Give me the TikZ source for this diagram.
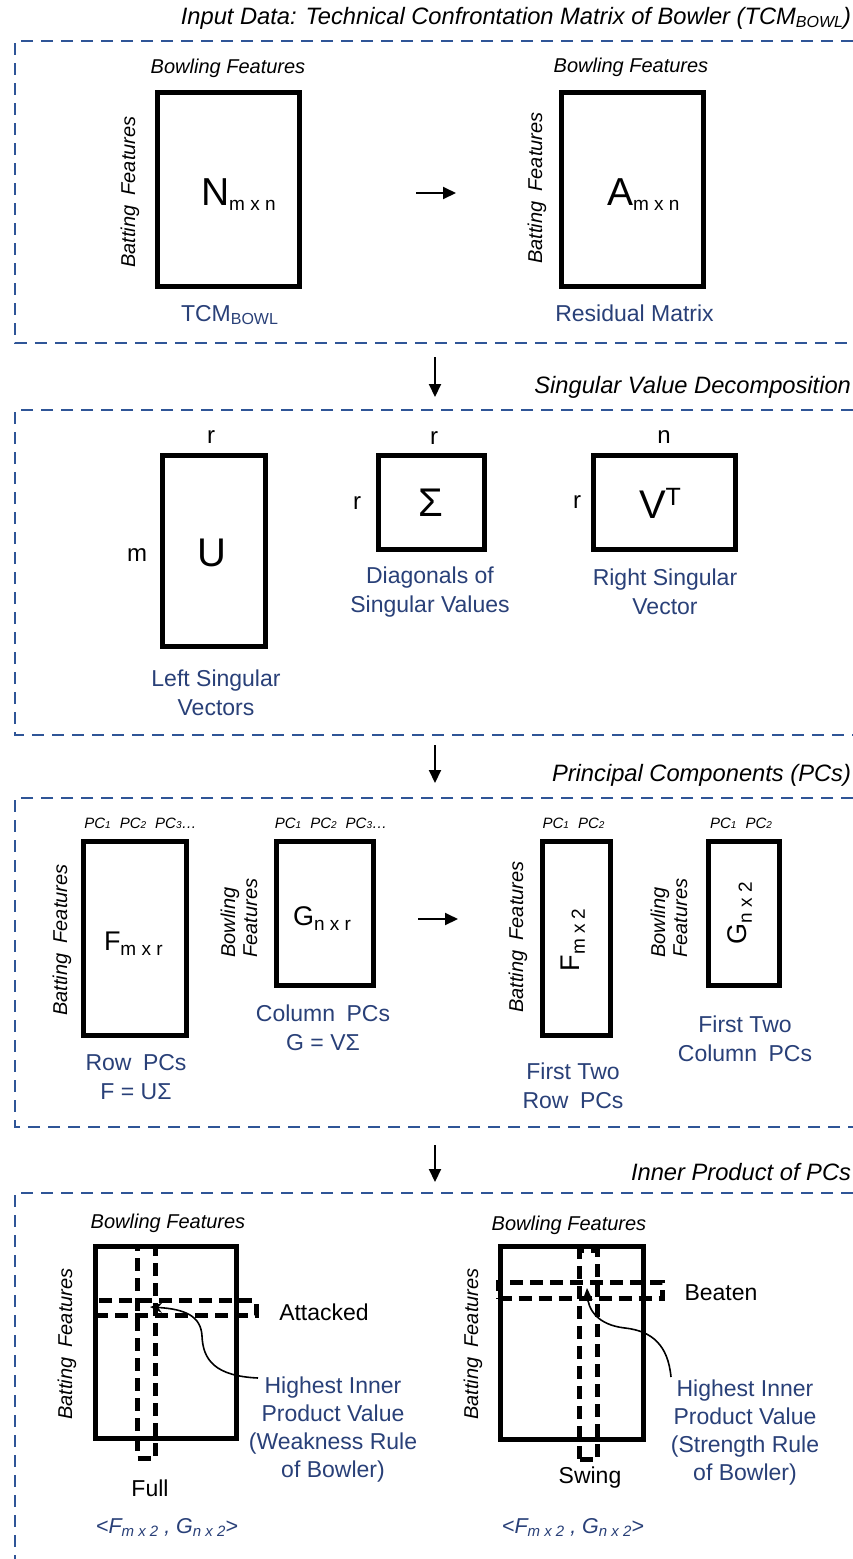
\documentclass[tikz,border=0pt]{standalone}
\usepackage{fontspec}
\setmainfont{Liberation Sans}
\usetikzlibrary{arrows.meta}
\definecolor{frameblue}{RGB}{47,85,151}
\definecolor{txtblue}{RGB}{41,64,120}
\newcommand{\fs}[1]{\fontsize{#1}{#1}\selectfont}
\newcommand{\lsub}[3]{\raisebox{#1}{\fontsize{#2}{#2}\selectfont #3}}
\begin{document}
\begin{tikzpicture}[x=1pt,y=-1pt,
  every node/.style={inner sep=0pt, outer sep=0pt},
  frame/.style={draw=frameblue, line width=2pt, dash pattern=on 12pt off 8pt},
  mat/.style={draw=black, line width=5pt},
  ttl/.style={font=\fs{23.7}\itshape, anchor=east},
  axis/.style={font=\fs{20}\itshape},
  axis2/.style={font=\fontsize{20}{22}\selectfont\itshape, align=left, rotate=90},
  lbl/.style={font=\fontsize{23}{29}\selectfont, text=txtblue, align=center},
  lbl4/.style={font=\fontsize{23}{28}\selectfont, text=txtblue, align=center},
  blk/.style={font=\fs{23}},
  dim/.style={font=\fs{24}},
  big/.style={font=\fs{40}},
  arr/.style={line width=2pt, -{Triangle[length=13pt,width=12pt]}},
  hl/.style={draw=black, line width=5pt, dash pattern=on 13pt off 7pt},
  pcl/.style={font=\fs{15}\itshape},
  curv/.style={line width=1.6pt, -{Stealth[length=12pt,width=10pt]}},
  fg/.style={font=\fs{21.5}\itshape, text=txtblue},
]
\useasboundingbox (0,0) rectangle (853,1559);
\fill[white] (0,0) rectangle (853,1559);

\newcommand{\PC}[1]{PC\lsub{0pt}{10}{#1}}

% ---------------- Section 1 ----------------
\node[ttl] (t1) at (851,18) {Input Data: Technical Confrontation Matrix of Bowler (TCM\lsub{-3pt}{16}{BOWL})};
\draw[frame] (853,41) -- (15,41) -- (15,343) -- (853,343);
\node[axis] (bf1) at (228,68) {Bowling Features};
\node[axis] (bf2) at (631,67) {Bowling Features};
\node[mat, minimum width=142pt, minimum height=194pt] (N) at (228.5,189) {};
\node[mat, minimum width=142pt, minimum height=194pt] (A) at (632.5,189) {};
\node[anchor=base west] (Nt) at (201,205) {\fs{39}N\lsub{-5pt}{19}{m x n}};
\node[anchor=base west] (At) at (607,205) {\fs{39}A\lsub{-5pt}{19}{m x n}};
\node[axis, rotate=90] (bt1) at (130,192) {Batting\hspace{0.5em}Features};
\node[axis, rotate=90] (bt2) at (537,188) {Batting\hspace{0.5em}Features};
\coordinate (a1s) at (416,193);
\coordinate (a1e) at (456,193);
\draw[arr] (a1s) -- (a1e);
\node[lbl] (tcm) at (229.5,315) {TCM\lsub{-3pt}{16}{BOWL}};
\node[lbl] (res) at (634.5,313) {Residual Matrix};

% ---------------- Section 2 ----------------
\coordinate (d1s) at (435,357);
\coordinate (d1e) at (435,397);
\draw[arr] (d1s) -- (d1e);
\node[ttl] (t2) at (851,387) {Singular Value Decomposition};
\draw[frame] (853,410) -- (15,410) -- (15,735) -- (853,735);
\node[mat, minimum width=103pt, minimum height=191pt] (U) at (214,551) {};
\node[mat, minimum width=106pt, minimum height=94pt] (S) at (431.5,502.5) {};
\node[mat, minimum width=142pt, minimum height=94pt] (V) at (664.5,502.5) {};
\node[big] (Ut) at (212,553) {U};
\node[big] (St) at (431,503) {Σ};
\node[anchor=base west] (Vt) at (639,518) {\fs{40}V\lsub{13pt}{25}{T}};
\node[dim] (rU) at (211,437) {r};
\node[dim] (rS) at (434,438) {r};
\node[dim] (nV) at (664,437) {n};
\node[dim] (mU) at (137,555) {m};
\node[dim] (rS2) at (357,503) {r};
\node[dim] (rV) at (577,502) {r};
\node[lbl] (lU) at (216,692.5) {Left Singular\\Vectors};
\node[lbl] (lS) at (430,592) {Diagonals of\\Singular Values};
\node[lbl] (lV) at (665,592) {Right Singular\\Vector};

% ---------------- Section 3 ----------------
\coordinate (d2s) at (435,745);
\coordinate (d2e) at (435,783);
\draw[arr] (d2s) -- (d2e);
\node[ttl] (t3) at (851,775) {Principal Components (PCs)};
\draw[frame] (853,798) -- (15,798) -- (15,1127) -- (853,1127);
\node[pcl] (pF) at (140.5,823) {\PC{1}\hspace{9pt}\PC{2}\hspace{9pt}\PC{3}…};
\node[pcl] (pG) at (331,823) {\PC{1}\hspace{9pt}\PC{2}\hspace{9pt}\PC{3}…};
\node[pcl] (pF2) at (573.5,823) {\PC{1}\hspace{9pt}\PC{2}};
\node[pcl] (pG2) at (741,823) {\PC{1}\hspace{9pt}\PC{2}};
\node[mat, minimum width=103pt, minimum height=194pt] (F) at (135,938.5) {};
\node[mat, minimum width=97pt, minimum height=144pt] (G) at (325,913.5) {};
\node[mat, minimum width=68pt, minimum height=194pt] (F2) at (576.5,938.5) {};
\node[mat, minimum width=71pt, minimum height=144pt] (G2) at (744,913.5) {};
\node[anchor=base west] (Ft) at (104,950) {\fs{27}F\lsub{-5pt}{19}{m x r}};
\node[anchor=base west] (Gt) at (293,925) {\fs{27}G\lsub{-5pt}{19}{n x r}};
\node[rotate=90] (F2t) at (573,940) {\fs{27}F\lsub{-5pt}{19}{m x 2}};
\node[rotate=90] (G2t) at (740,913) {\fs{27}G\lsub{-5pt}{19}{n x 2}};
\node[axis, rotate=90] (bt3) at (62,940) {Batting\hspace{0.5em}Features};
\node[axis, rotate=90] (bt4) at (518,937) {Batting\hspace{0.5em}Features};
\node[axis2] (bw3) at (239,918) {Bowling\\Features};
\node[axis2] (bw4) at (669,918) {Bowling\\Features};
\coordinate (a2s) at (418,919);
\coordinate (a2e) at (458,919);
\draw[arr] (a2s) -- (a2e);
\node[lbl] (lF) at (136,1077.5) {Row\hspace{0.5em}PCs\\F = UΣ};
\node[lbl] (lG) at (323,1027.5) {Column\hspace{0.5em}PCs\\G = VΣ};
\node[lbl] (lF2) at (573,1086) {First Two\\Row\hspace{0.5em}PCs};
\node[lbl] (lG2) at (745,1039) {First Two\\Column\hspace{0.5em}PCs};

% ---------------- Section 4 ----------------
\coordinate (d3s) at (435,1145);
\coordinate (d3e) at (435,1182);
\draw[arr] (d3s) -- (d3e);
\node[ttl] (t4) at (851,1172) {Inner Product of PCs};
\draw[frame] (853,1193) -- (15,1193) -- (15,1559);
\node[axis] (bf5) at (168,1223) {Bowling Features};
\node[axis] (bf6) at (569,1225) {Bowling Features};
\node[mat, minimum width=141pt, minimum height=192pt] (L) at (166,1342.5) {};
\node[mat, minimum width=143pt, minimum height=193pt] (R) at (572,1343) {};
\node[axis, rotate=90] (bt5) at (67,1344) {Batting\hspace{0.5em}Features};
\node[axis, rotate=90] (bt6) at (473,1344) {Batting\hspace{0.5em}Features};
% dashed highlight strips
\node[hl, minimum width=18pt, minimum height=212pt] (vL) at (146.5,1352) {};
\node[hl, minimum width=161pt, minimum height=15pt] (hL) at (175.5,1308) {};
\node[hl, minimum width=17.5pt, minimum height=209pt] (vR) at (588.3,1354.5) {};
\node[hl, minimum width=164pt, minimum height=16.5pt] (hR) at (580.5,1290.3) {};
\node[blk] (att) at (324,1312) {Attacked};
\node[blk] (bea) at (721,1293) {Beaten};
\node[blk] (ful) at (150,1488) {Full};
\node[blk] (swi) at (590,1478) {Swing};
\node[lbl4] (HL) at (333,1430) {Highest Inner\\Product Value\\(Weakness Rule\\of Bowler)};
\node[lbl4] (HR) at (745,1432.5) {Highest Inner\\Product Value\\(Strength Rule\\of Bowler)};
\coordinate (cL) at (258,1378);
\coordinate (tipL) at (150,1307);
\draw[curv] (cL) .. controls (215,1376) and (203,1360) .. (202,1336) .. controls (201,1316) and (185,1309) .. (tipL);
\coordinate (cR) at (671,1377);
\coordinate (tipR) at (587,1288);
\draw[curv] (cR) .. controls (668,1345) and (652,1331) .. (625,1328) .. controls (598,1325) and (588,1310) .. (tipR);
\node[fg] (fgL) at (167,1527) {<F\lsub{-3pt}{15}{m x 2} , G\lsub{-3pt}{15}{n x 2}>};
\node[fg] (fgR) at (573,1527) {<F\lsub{-3pt}{15}{m x 2} , G\lsub{-3pt}{15}{n x 2}>};
\end{tikzpicture}
\end{document}
